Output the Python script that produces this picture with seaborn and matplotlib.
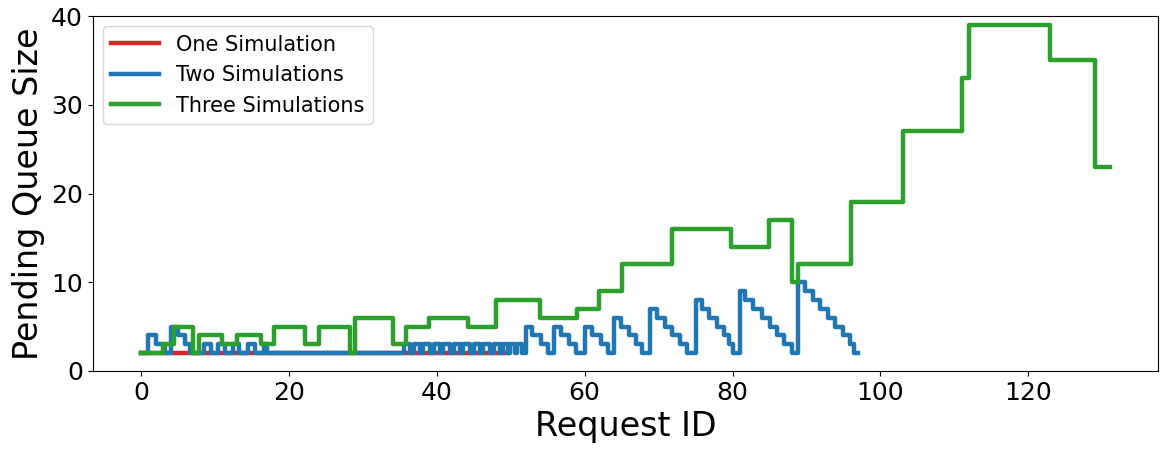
import matplotlib
matplotlib.use('Agg')
import matplotlib.pyplot as plt
import seaborn as sns
import pandas as pd

# ── Data (step breakpoints: request id -> pending queue size) ────────────────
one_x = [0, 49.5]
one_y = [2, 2]

two_x = [0, 1, 2, 3.2, 4.1, 5, 5.9, 6.6, 8.5, 9.5, 10.4, 11.3, 12.4, 13.3,
         14.4, 15.4, 16.6, 17.1,
         35.5, 36.35, 36.9, 37.75, 38.2, 39.05, 39.6, 40.45, 40.9, 41.75,
         42.3, 43.15, 43.6, 44.45, 45.0, 45.85, 46.3, 47.15, 47.7, 48.55,
         49.0, 49.6, 49.9, 50.6, 50.9, 51.5,
         52.1, 52.9, 54.1, 55.0, 55.9, 56.8, 57.9, 58.8, 60.0, 61.0, 62.2,
         63.1, 64.0, 64.9, 66.0, 66.9, 67.8, 68.9, 69.8, 70.9, 71.8, 72.9,
         73.9, 75.0, 75.9, 76.8, 77.9, 78.8, 79.5, 80.0, 81.05, 81.7, 82.8,
         84.0, 85.1, 86.0, 86.9, 88.0, 88.9, 89.8, 90.9, 91.8, 92.9, 93.9,
         95.0, 95.9, 96.4, 97]
two_y = [2, 4, 3, 2, 5, 4, 3, 2, 3, 2, 3, 2, 3, 2,
         3, 2, 3, 2,
         3, 2, 3, 2, 3, 2, 3, 2, 3, 2,
         3, 2, 3, 2, 3, 2, 3, 2, 3, 2,
         3, 2, 3, 2, 3, 2,
         5, 4, 3, 2, 5, 4, 3, 2, 5, 4, 3,
         2, 6, 5, 4, 3, 2, 7, 6, 5, 4, 3,
         2, 8, 7, 6, 5, 4, 3, 2, 9, 8, 7,
         6, 5, 4, 3, 2, 10, 9, 8, 7, 6, 5,
         4, 3, 2, 2]

three_x = [0, 3, 4.4, 7, 7.8, 11, 13, 16.2, 18, 22.2, 24, 28.2, 29, 34.1,
           35.9, 39, 44.2, 48, 54, 59, 62, 65, 71.8, 79.8, 85, 88.1, 88.9,
           96, 103, 111, 112, 123, 129, 131]
three_y = [2, 3, 5, 2, 4, 3, 4, 3, 5, 3, 5, 2, 6, 3,
           5, 6, 5, 8, 6, 7, 9, 12, 16, 14, 17, 10, 12,
           19, 27, 33, 39, 35, 23, 23]

labels = ['One Simulation', 'Two Simulations', 'Three Simulations']
colors = ['#d62728', '#1f77b4', '#2ca02c']

# ── Plot ─────────────────────────────────────────────────────────────────────
fig, ax = plt.subplots(figsize=(11.61, 4.5), dpi=100)
fig.subplots_adjust(left=0.0798, right=0.9974, bottom=0.1756, top=0.9644)

for xs, ys, lab, col in zip([one_x, two_x, three_x], [one_y, two_y, three_y],
                            labels, colors):
    d = pd.DataFrame({'id': xs, 'q': ys})
    sns.lineplot(data=d, x='id', y='q', ax=ax, color=col, label=lab,
                 drawstyle='steps-post', estimator=None, sort=False,
                 linewidth=3.2)

ax.set_ylim(0, 40)
ax.set_xlabel('Request ID', fontsize=24)
ax.set_ylabel('Pending Queue Size', fontsize=24)
ax.tick_params(labelsize=18)
ax.legend(loc='upper left', fontsize=15, handlelength=2.3)

plt.savefig('out.png', dpi=100)
